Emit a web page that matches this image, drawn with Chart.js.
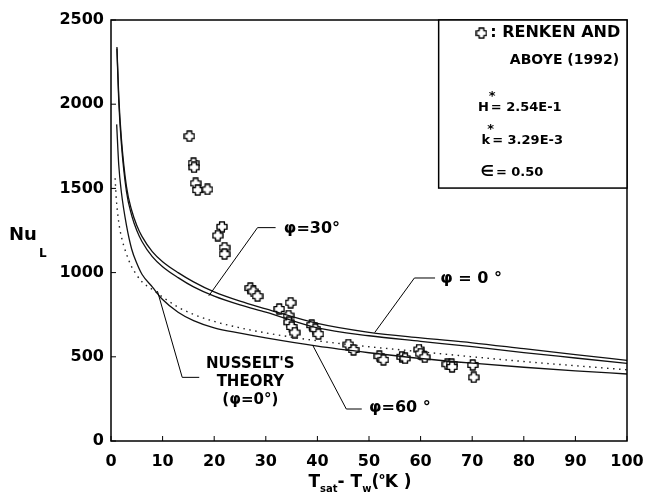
<!DOCTYPE html>
<html>
<head>
<meta charset="utf-8">
<script src="https://cdn.jsdelivr.net/npm/chart.js@4.4.1/dist/chart.umd.min.js"></script>
<style>
  html, body { margin: 0; padding: 0; background: #fff; }
  canvas { display: block; }
</style>
</head>
<body>
<canvas id="grafico" width="645" height="497"></canvas>
<script>

//--------------------------------------------------
// DADOS
//--------------------------------------------------

const ticksX = [0, 10, 20, 30, 40, 50, 60, 70, 80, 90, 100];
const ticksY = [0, 500, 1000, 1500, 2000, 2500];

// curvas phi = 0 e phi = 30
const xCurvas = [1.15, 1.5, 2, 3, 4, 5, 6, 8, 10, 13, 16, 20, 25, 30, 40, 50, 60, 70, 80, 90, 100];
const nuPhi0  = [2340, 2050, 1800, 1510, 1370, 1280, 1215, 1125, 1065, 1000, 945, 885, 830, 785, 698, 645, 612, 583, 548, 513, 479];
const nuPhi30 = [2330, 2020, 1770, 1480, 1340, 1250, 1185, 1095, 1035, 970, 915, 860, 808, 765, 672, 625, 592, 560, 525, 493, 461];

// curva phi = 60
const xPhi60  = [1.1, 1.5, 2, 3, 4, 5, 6, 8, 10, 13, 16, 20, 25, 30, 40, 50, 60, 70, 80, 90, 100];
const nuPhi60 = [1880, 1640, 1480, 1280, 1140, 1055, 990, 915, 840, 765, 715, 672, 640, 612, 563, 524, 490, 462, 438, 417, 398];

// teoria de Nusselt (pontilhada)
const xNusselt  = [0.8, 1, 1.5, 2, 3, 4, 5, 6, 8, 10, 13, 16, 20, 25, 30, 40, 50, 60, 70, 80, 90, 100];
const nuNusselt = [1560, 1450, 1300, 1215, 1110, 1035, 985, 945, 900, 855, 795, 752, 710, 672, 642, 595, 560, 530, 500, 472, 447, 423];

// Renken and Aboye (1992)
const xRenken  = [15.2, 16.0, 16.1, 16.4, 16.8, 18.7, 21.5, 20.7, 22.0, 22.0, 27.0, 27.6, 28.4, 32.6, 34.8, 34.4, 34.5, 35.0, 35.6, 38.9, 39.6, 40.2, 46.0, 47.0, 52.0, 52.8, 56.4, 57.0, 59.7, 60.0, 60.8, 65.2, 66.0, 66.1, 70.1, 70.3];
const nuRenken = [1810, 1650, 1625, 1530, 1490, 1494, 1272, 1220, 1148, 1110, 908, 888, 860, 784, 821, 745, 705, 677, 644, 688, 664, 635, 573, 541, 504, 482, 500, 491, 543, 519, 497, 456, 457, 440, 452, 378];

//--------------------------------------------------
// AUXILIARES
//--------------------------------------------------

const FONTE = '"DejaVu Sans", "Liberation Sans", sans-serif';

function pares(xs, ys) {
  return xs.map((x, i) => ({ x: x, y: ys[i] }));
}

// cruz vazada (marcador dos pontos experimentais)
function cruz(tam) {
  const c = document.createElement('canvas');
  c.width = tam;
  c.height = tam;
  const g = c.getContext('2d');
  const m = 1, cx = tam / 2, w = tam * 0.2;
  g.beginPath();
  g.moveTo(cx - w, m);       g.lineTo(cx + w, m);
  g.lineTo(cx + w, cx - w);  g.lineTo(tam - m, cx - w);
  g.lineTo(tam - m, cx + w); g.lineTo(cx + w, cx + w);
  g.lineTo(cx + w, tam - m); g.lineTo(cx - w, tam - m);
  g.lineTo(cx - w, cx + w);  g.lineTo(m, cx + w);
  g.lineTo(m, cx - w);       g.lineTo(cx - w, cx - w);
  g.closePath();
  g.fillStyle = '#fff';
  g.fill();
  g.lineWidth = 1.4;
  g.lineJoin = 'round';
  g.strokeStyle = '#000';
  g.stroke();
  return c;
}

const marcador = cruz(12);

//--------------------------------------------------
// ANOTACOES (em unidades dos eixos)
//--------------------------------------------------

const chamadas = [
  { linha: [[18.95, 862], [28.4, 1267], [31.9, 1267]], texto: ['φ=30°'], tx: 33.5, ty: 1262, alinha: 'left' },
  { linha: [[51.1, 644], [58.8, 968], [62.8, 968]],    texto: ['φ = 0 °'], tx: 63.8, ty: 962, alinha: 'left' },
  { linha: [[39.1, 568], [45.6, 190], [48.6, 190]],    texto: ['φ=60 °'], tx: 50.0, ty: 198, alinha: 'left' },
  { linha: [[9.0, 890], [13.8, 378], [17.1, 378]],     texto: ["NUSSELT'S", 'THEORY', '(φ=0°)'], tx: 27.0, ty: 457, alinha: 'center' }
];

//--------------------------------------------------
// PLUGIN: moldura, ticks, legenda, titulos
//--------------------------------------------------

const moldura = {
  id: 'moldura',
  afterDraw(chart) {
    const { ctx, chartArea: a, scales: { x, y } } = chart;
    const px = v => x.getPixelForValue(v);
    const py = v => y.getPixelForValue(v);

    ctx.save();

    // caixa do grafico
    ctx.strokeStyle = '#000';
    ctx.lineWidth = 1.5;
    ctx.strokeRect(a.left, a.top, a.right - a.left, a.bottom - a.top);

    // ticks para dentro
    ctx.lineWidth = 1;
    ctx.beginPath();
    ticksX.forEach(v => {
      ctx.moveTo(px(v), a.bottom);
      ctx.lineTo(px(v), a.bottom - 5);
    });
    ticksY.forEach(v => {
      ctx.moveTo(a.left, py(v));
      ctx.lineTo(a.left + 5, py(v));
    });
    ctx.stroke();

    // chamadas das curvas
    ctx.fillStyle = '#000';
    ctx.textBaseline = 'middle';
    chamadas.forEach(c => {
      ctx.lineWidth = 1;
      ctx.beginPath();
      c.linha.forEach((p, i) => {
        if (i === 0) ctx.moveTo(px(p[0]), py(p[1]));
        else ctx.lineTo(px(p[0]), py(p[1]));
      });
      ctx.stroke();

      ctx.textAlign = c.alinha;
      const grande = c.texto.length === 1;
      ctx.font = (grande ? 'bold 16px ' : 'bold 15px ') + FONTE;
      c.texto.forEach((t, i) => {
        ctx.fillText(t, px(c.tx), py(c.ty) + i * 18);
      });
    });

    // legenda
    const lx = px(63.5), ly = a.top;
    ctx.fillStyle = '#fff';
    ctx.fillRect(lx, ly, a.right - lx, py(1502) - ly);
    ctx.lineWidth = 1.5;
    ctx.strokeRect(lx, ly, a.right - lx, py(1502) - ly);

    ctx.drawImage(marcador, px(71.8) - 6, py(2422) - 6);

    ctx.fillStyle = '#000';
    ctx.textAlign = 'left';
    ctx.font = 'bold 16px ' + FONTE;
    ctx.fillText(': RENKEN AND', px(73.5), py(2422));
    ctx.font = 'bold 14px ' + FONTE;
    ctx.fillText('ABOYE (1992)', px(77.3), py(2262));

    ctx.font = 'bold 13px ' + FONTE;
    const hx = px(71.1), hy = py(1977);
    ctx.fillText('H', hx, hy);
    const wh = ctx.measureText('H').width;
    ctx.fillText('= 2.54E-1', hx + wh + 2, hy);
    ctx.fillText('*', hx + wh, hy - 11);

    const kx = px(71.8), ky = py(1781);
    ctx.fillText('k', kx, ky);
    const wk = ctx.measureText('k').width;
    ctx.fillText('= 3.29E-3', kx + wk + 2, ky);
    ctx.fillText('*', kx + wk - 3, ky - 11);

    ctx.font = 'bold 15px ' + FONTE;
    ctx.fillText('∈', px(71.6), py(1594));
    const we = ctx.measureText('∈').width;
    ctx.font = 'bold 13px ' + FONTE;
    ctx.fillText('= 0.50', px(71.6) + we + 2, py(1594));

    // titulo eixo Y: Nu_L
    ctx.textBaseline = 'alphabetic';
    ctx.font = 'bold 18px ' + FONTE;
    ctx.fillText('Nu', 9, 240);
    const wnu = ctx.measureText('Nu').width;
    ctx.font = 'bold 12px ' + FONTE;
    ctx.fillText('L', 9 + wnu + 2, 257);

    // titulo eixo X: T_sat - T_w (°K)
    const partes = [
      { t: 'T',   f: 17, dy: 0 },
      { t: 'sat', f: 10, dy: 5 },
      { t: '- T', f: 17, dy: 0 },
      { t: 'w',   f: 10, dy: 5 },
      { t: '(',   f: 17, dy: 0 },
      { t: 'o',   f: 8,  dy: -8 },
      { t: 'K )', f: 17, dy: 0 }
    ];
    let total = 0;
    partes.forEach(p => {
      ctx.font = 'bold ' + p.f + 'px ' + FONTE;
      p.w = ctx.measureText(p.t).width;
      total += p.w;
    });
    let cx = 360 - total / 2;
    partes.forEach(p => {
      ctx.font = 'bold ' + p.f + 'px ' + FONTE;
      ctx.fillText(p.t, cx, 487 + p.dy);
      cx += p.w;
    });

    ctx.restore();
  }
};

//--------------------------------------------------
// GRAFICO
//--------------------------------------------------

const linha = {
  showLine: true,
  borderColor: '#111',
  borderWidth: 1.3,
  pointRadius: 0,
  cubicInterpolationMode: 'monotone'
};

const fonteTicks = { family: FONTE, size: 16, weight: 'bold' };

new Chart(document.getElementById('grafico'), {
  type: 'scatter',
  data: {
    datasets: [
      Object.assign({ label: 'φ = 0°',  data: pares(xCurvas, nuPhi0) }, linha),
      Object.assign({ label: 'φ = 30°', data: pares(xCurvas, nuPhi30) }, linha),
      Object.assign({ label: 'φ = 60°', data: pares(xPhi60, nuPhi60) }, linha),
      Object.assign({ label: "Nusselt's theory", data: pares(xNusselt, nuNusselt) }, linha,
        { borderDash: [1.5, 4.5], borderWidth: 1.4, borderColor: '#222' }),
      {
        label: 'Renken and Aboye (1992)',
        data: pares(xRenken, nuRenken),
        pointStyle: marcador,
        pointRadius: 6
      }
    ]
  },
  options: {
    responsive: false,
    animation: false,
    layout: { padding: { top: 20, right: 18, bottom: 0, left: 0 } },
    plugins: {
      legend: { display: false },
      tooltip: { enabled: false }
    },
    scales: {
      x: {
        type: 'linear',
        min: 0,
        max: 100,
        afterBuildTicks: s => { s.ticks = ticksX.map(v => ({ value: v })); },
        afterFit: s => {
          s.height = 56;
          s.paddingLeft = 0;
          s.paddingRight = 0;
        },
        grid: { display: false, drawTicks: false },
        border: { display: false },
        ticks: { font: fonteTicks, color: '#000', padding: 11, maxRotation: 0, autoSkip: false }
      },
      y: {
        type: 'linear',
        min: 0,
        max: 2500,
        afterBuildTicks: s => { s.ticks = ticksY.map(v => ({ value: v })); },
        afterFit: s => {
          s.width = 111;
          s.paddingTop = 0;
          s.paddingBottom = 0;
        },
        grid: { display: false, drawTicks: false },
        border: { display: false },
        ticks: { font: fonteTicks, color: '#000', padding: 7, autoSkip: false, callback: v => String(v) }
      }
    }
  },
  plugins: [moldura]
});

</script>
</body>
</html>
